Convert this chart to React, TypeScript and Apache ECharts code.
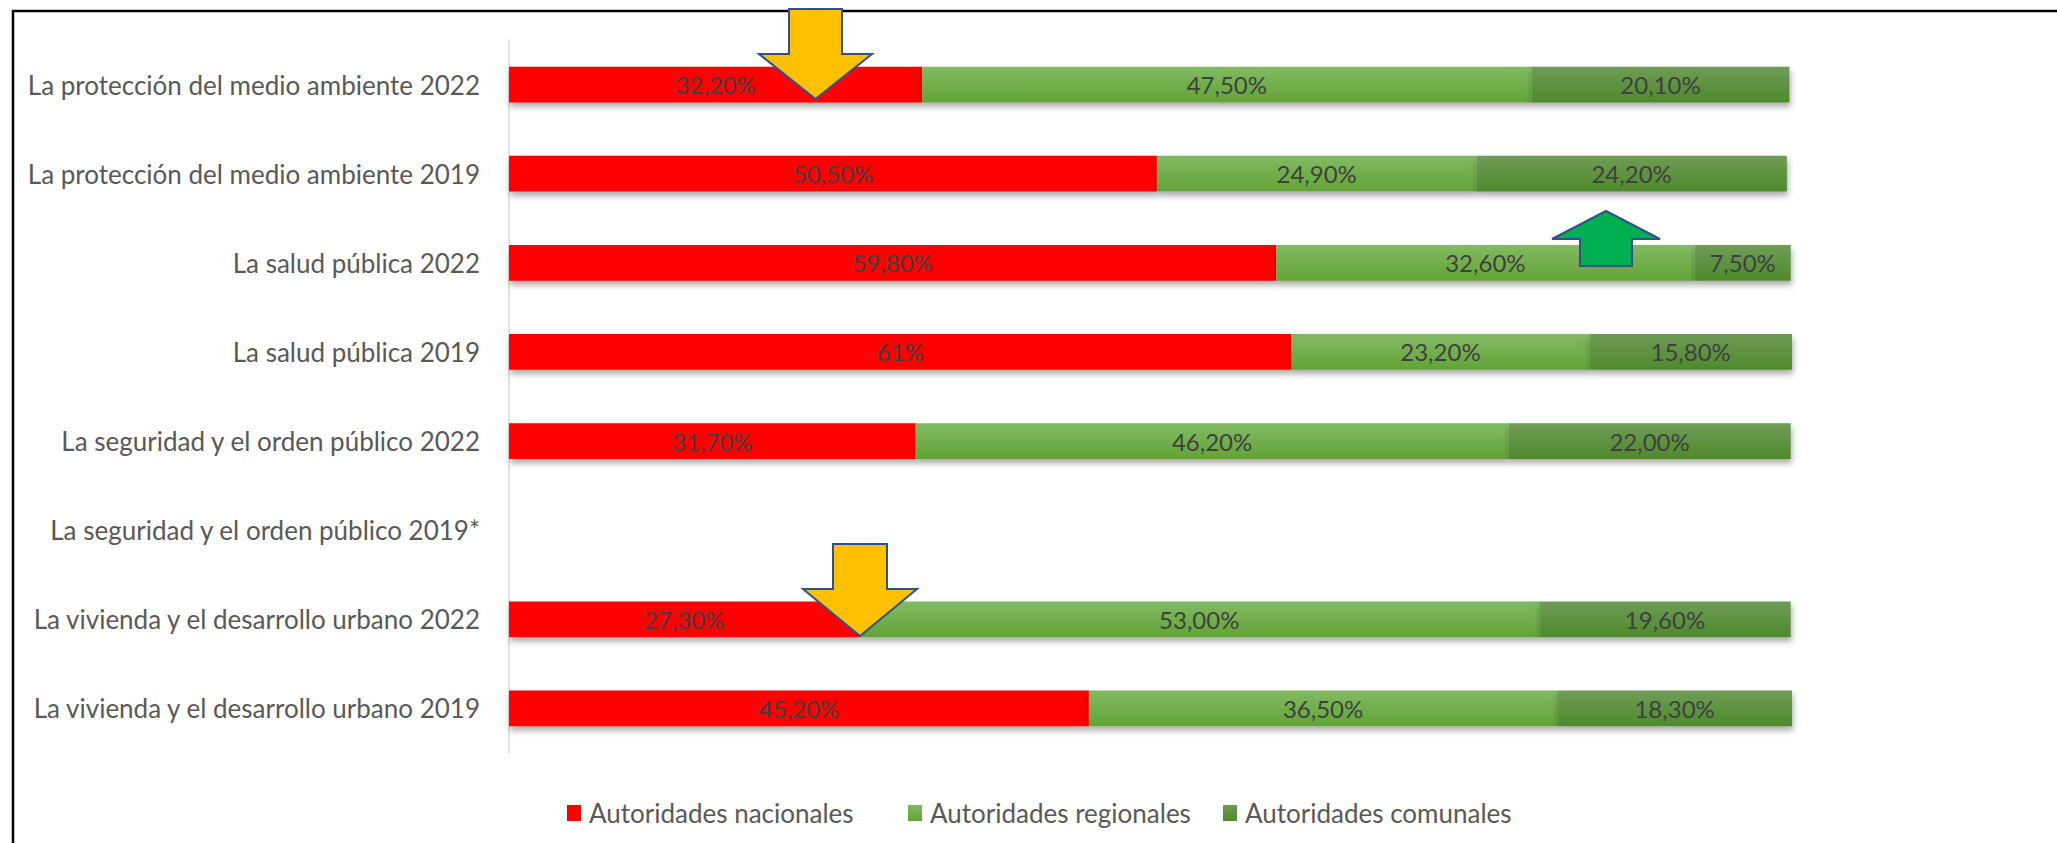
import React, { useEffect, useRef } from "react";
import * as echarts from "echarts";

const categories = [
  "La protección del medio ambiente 2022",
  "La protección del medio ambiente 2019",
  "La salud pública 2022",
  "La salud pública 2019",
  "La seguridad y el orden público 2022",
  "La seguridad y el orden público 2019*",
  "La vivienda y el desarrollo urbano 2022",
  "La vivienda y el desarrollo urbano 2019",
];

const seriesNames = ["Autoridades nacionales", "Autoridades regionales", "Autoridades comunales"];

const nacionales = [32.2, 50.5, 59.8, 61, 31.7, null, 27.3, 45.2];
const regionales = [47.5, 24.9, 32.6, 23.2, 46.2, null, 53.0, 36.5];
const comunales = [20.1, 24.2, 7.5, 15.8, 22.0, null, 19.6, 18.3];

const nacionalesLabels = ["32,20%", "50,50%", "59,80%", "61%", "31,70%", "", "27,30%", "45,20%"];
const regionalesLabels = ["47,50%", "24,90%", "32,60%", "23,20%", "46,20%", "", "53,00%", "36,50%"];
const comunalesLabels = ["20,10%", "24,20%", "7,50%", "15,80%", "22,00%", "", "19,60%", "18,30%"];

const FONT = "Lato, 'Open Sans', sans-serif";

export default function App() {
  const ref = useRef<HTMLDivElement>(null);

  useEffect(() => {
    document.body.style.margin = "0";
    const chart = echarts.init(ref.current!, null, { renderer: "svg" });

    const shadow = {
      shadowBlur: 6,
      shadowOffsetX: 1,
      shadowOffsetY: 4,
      shadowColor: "rgba(0,0,0,0.35)",
    };

    const mkSeries = (name: string, data: (number | null)[], labels: string[], color: any) => ({
      name,
      type: "bar",
      stack: "total",
      barWidth: "40%",
      data: data.map((v) => (v === null ? "-" : v)),
      itemStyle: { color, ...shadow },
      label: {
        show: true,
        position: "inside",
        color: "#404040",
        fontSize: 24,
        fontFamily: FONT,
        formatter: (p: any) => labels[p.dataIndex],
      },
      emphasis: { disabled: true },
    });

    const regGrad = new echarts.graphic.LinearGradient(0, 0, 0, 1, [
      { offset: 0, color: "#82ba62" },
      { offset: 1, color: "#62a436" },
    ]);
    const comGrad = new echarts.graphic.LinearGradient(0, 0, 0, 1, [
      { offset: 0, color: "#6f9c57" },
      { offset: 1, color: "#4e8a2b" },
    ]);

    const arrowStroke = "#2F528F";
    const legendLefts = [567, 908, 1223];

    const mkLegend = (i: number) => ({
      left: legendLefts[i],
      top: 800,
      padding: 0,
      itemWidth: 14,
      itemHeight: 16,
      icon: "rect",
      textStyle: { color: "#595959", fontSize: 26, fontFamily: FONT, padding: [0, 0, 0, 3] },
      data: [seriesNames[i]],
    });

    chart.setOption({
      animation: false,
      backgroundColor: "#ffffff",
      textStyle: { fontFamily: FONT },
      grid: { left: 509, top: 40, width: 1283, height: 713, containLabel: false },
      xAxis: {
        type: "value",
        min: 0,
        max: 100,
        show: false,
      },
      yAxis: {
        type: "category",
        data: categories,
        inverse: true,
        axisLine: { show: true, lineStyle: { color: "#d9d9d9", width: 1.5 } },
        axisTick: { show: false },
        axisLabel: { color: "#595959", fontSize: 26, fontFamily: FONT, margin: 29 },
        splitLine: { show: false },
      },
      legend: [mkLegend(0), mkLegend(1), mkLegend(2)],
      series: [
        mkSeries(seriesNames[0], nacionales, nacionalesLabels, "#FF0000"),
        mkSeries(seriesNames[1], regionales, regionalesLabels, regGrad),
        mkSeries(seriesNames[2], comunales, comunalesLabels, comGrad),
      ],
      graphic: [
        {
          type: "rect",
          z: 100,
          silent: true,
          shape: { x: 13, y: 11, width: 2200, height: 1000 },
          style: { fill: "none", stroke: "#000000", lineWidth: 2.5 },
        },
        {
          type: "polygon",
          z: 110,
          silent: true,
          shape: {
            points: [[789, 9], [842, 9], [842, 54], [872, 54], [815.5, 99], [759, 54], [789, 54]],
          },
          style: { fill: "#FFC000", stroke: arrowStroke, lineWidth: 2 },
        },
        {
          type: "polygon",
          z: 110,
          silent: true,
          shape: {
            points: [[1606, 211], [1660, 239], [1632, 239], [1632, 266], [1580, 266], [1580, 239], [1552, 239]],
          },
          style: { fill: "#00B050", stroke: arrowStroke, lineWidth: 2 },
        },
        {
          type: "polygon",
          z: 110,
          silent: true,
          shape: {
            points: [[833, 544], [887, 544], [887, 589], [917, 589], [860, 636], [803, 589], [833, 589]],
          },
          style: { fill: "#FFC000", stroke: arrowStroke, lineWidth: 2 },
        },
      ],
    });

    return () => chart.dispose();
  }, []);

  return (
    <div
      ref={ref}
      style={{ position: "absolute", left: 0, top: 0, width: 2057, height: 843 }}
    />
  );
}
